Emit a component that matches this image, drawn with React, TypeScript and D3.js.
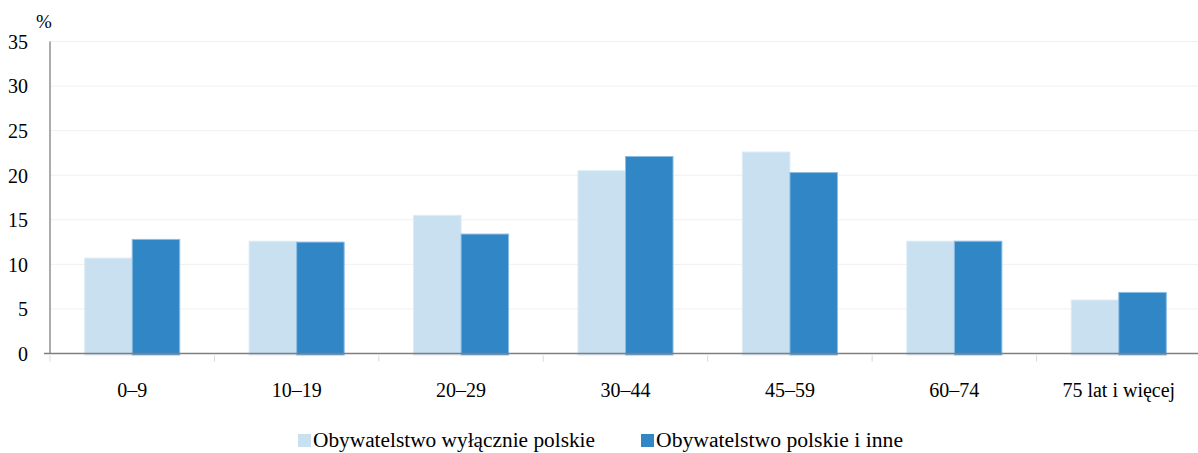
import React from "react";
import * as d3 from "d3";

const categories = ["0–9", "10–19", "20–29", "30–44", "45–59", "60–74", "75 lat i więcej"];
const onlyPolish = [10.7, 12.6, 15.5, 20.5, 22.6, 12.6, 6.0];
const polishAndOther = [12.8, 12.5, 13.4, 22.1, 20.3, 12.6, 6.85];
const seriesNames = ["Obywatelstwo wyłącznie polskie", "Obywatelstwo polskie i inne"];
const colors = ["#c9e0f0", "#3186c6"];
const strokes = ["#dcebf6", "#8dbde2"];
const yTicks = [0, 5, 10, 15, 20, 25, 30, 35];

const FONT = "Liberation Serif";
const width = 1198;
const height = 453;
const margin = { top: 41.5, right: -3, bottom: 99.5, left: 50 };

const App = () => {
  const x = d3
    .scaleBand<string>()
    .domain(categories)
    .range([margin.left, width - margin.right])
    .padding(0);

  const inner = d3
    .scaleBand<string>()
    .domain(["0", "1"])
    .range([0, x.bandwidth()])
    .paddingOuter(0.73)
    .paddingInner(0);

  const y = d3
    .scaleLinear()
    .domain([0, 35])
    .range([height - margin.bottom, margin.top]);

  const series = [onlyPolish, polishAndOther];
  const legendX = [298, 641];
  const legendTextWidth = [282, 247];

  return (
    <svg
      width={width}
      height={height}
      style={{ position: "absolute", left: 0, top: 0, background: "#fff" }}
    >
      {/* siatka */}
      {yTicks
        .filter((t) => t > 0)
        .map((t) => (
          <line key={t} x1={margin.left} x2={width} y1={y(t)} y2={y(t)} stroke="#f0f0f0" />
        ))}

      {/* etykiety osi Y */}
      {yTicks.map((t) => (
        <text key={t} x={28} y={y(t) + 7.3} textAnchor="end" fontFamily={FONT} fontSize={20} fill="#000">
          {t}
        </text>
      ))}
      <text x={36} y={28} fontFamily={FONT} fontSize={19} fill="#000">
        %
      </text>

      {/* słupki */}
      {series.map((values, si) =>
        values.map((v, i) => (
          <rect
            key={`${si}-${i}`}
            x={(x(categories[i]) ?? 0) + (inner(String(si)) ?? 0)}
            y={y(v)}
            width={inner.bandwidth()}
            height={y(0) - y(v) + 1.5}
            fill={colors[si]}
            stroke={strokes[si]}
            strokeWidth={1}
          />
        ))
      )}

      {/* osie */}
      <line x1={margin.left} x2={margin.left} y1={y(35)} y2={y(0)} stroke="#7f7f7f" strokeWidth={1.3} />
      <line x1={margin.left - 6} x2={width} y1={y(0)} y2={y(0)} stroke="#7f7f7f" strokeWidth={1.3} />
      {categories.map((c) => (
        <line key={c} x1={x(c)} x2={x(c)} y1={y(0) + 2} y2={y(0) + 8} stroke="#d9d9d9" />
      ))}

      {/* etykiety osi X */}
      {categories.map((c) => (
        <text
          key={c}
          x={(x(c) ?? 0) + x.bandwidth() / 2}
          y={397}
          textAnchor="middle"
          fontFamily={FONT}
          fontSize={20}
          fill="#000"
        >
          {c}
        </text>
      ))}

      {/* legenda */}
      {seriesNames.map((name, i) => (
        <g key={name} transform={`translate(${legendX[i]},0)`}>
          <rect x={0} y={434} width={13} height={13} fill={colors[i]} />
          <text
            x={15}
            y={447}
            fontFamily={FONT}
            fontSize={20}
            textLength={legendTextWidth[i]}
            lengthAdjust="spacingAndGlyphs"
            fill="#000"
          >
            {name}
          </text>
        </g>
      ))}
    </svg>
  );
};

export default App;
